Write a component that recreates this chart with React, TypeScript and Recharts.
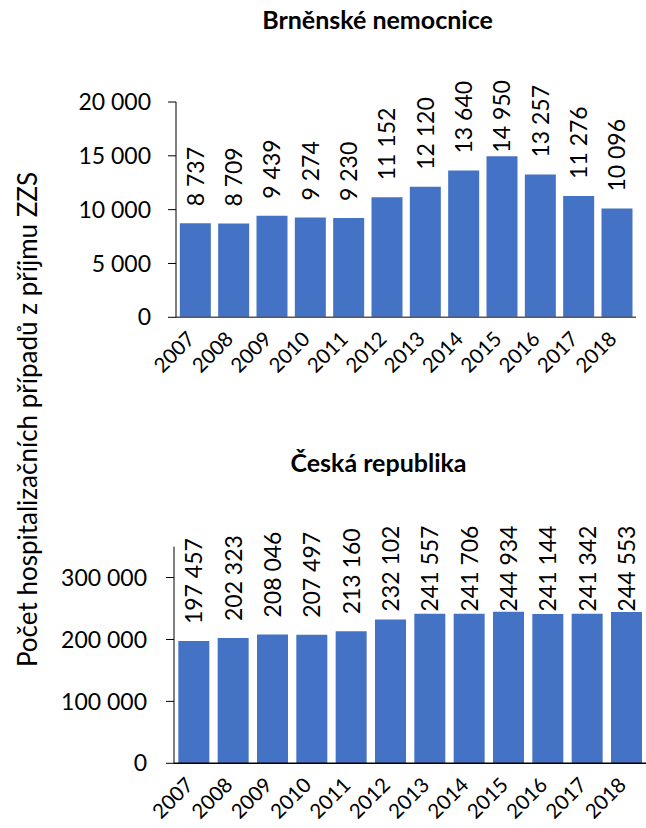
import React from "react";
import { BarChart, Bar, XAxis, YAxis, LabelList } from "recharts";

const years = ["2007", "2008", "2009", "2010", "2011", "2012", "2013", "2014", "2015", "2016", "2017", "2018"];
const brnoValues = [8737, 8709, 9439, 9274, 9230, 11152, 12120, 13640, 14950, 13257, 11276, 10096];
const czValues = [197457, 202323, 208046, 207497, 213160, 232102, 241557, 241706, 244934, 241144, 241342, 244553];
const brnoTicks = [0, 5000, 10000, 15000, 20000];
const czTicks = [0, 100000, 200000, 300000];

const brnoTitle = "Brněnské nemocnice";
const czTitle = "Česká republika";
const yTitle = "Počet hospitalizačních případů z příjmu ZZS";

const FONT = "Lato, 'DejaVu Sans', sans-serif";
const BLUE = "#4472C4";
const LABEL_FS = 23;

const fmt = (v: number) => String(v).replace(/\B(?=(\d{3})+(?!\d))/g, " ");

// rough width of a digit string in Lato
const textWidth = (s: string, fs: number) =>
  s.split("").reduce((acc, ch) => acc + (ch === " " ? 0.193 : 0.58) * fs, 0);

const brnoData = years.map((year, i) => ({ year, value: brnoValues[i] }));
const czData = years.map((year, i) => ({ year, value: czValues[i] }));

const XTick = (props: any) => {
  const { x, y, payload } = props;
  const tx = x + 1;
  const ty = y + 23;
  return (
    <text
      x={tx}
      y={ty}
      transform={`rotate(-45 ${tx} ${ty})`}
      textAnchor="end"
      fontSize={20.5}
      fontFamily={FONT}
      fill="#000"
    >
      {payload.value}
    </text>
  );
};

// labels sit above the bar, but are pushed down when they would leave the chart area
const makeLabel = (clampTop: number) => (props: any) => {
  const { x, y, width, value } = props;
  const txt = fmt(value);
  const w = textWidth(txt, LABEL_FS);
  const bottom = Math.max(y - 17, clampTop + w);
  const bx = x + width / 2 + 8.5;
  return (
    <text
      x={bx}
      y={bottom}
      transform={`rotate(-90 ${bx} ${bottom})`}
      textAnchor="start"
      fontSize={LABEL_FS}
      fontFamily={FONT}
      fill="#000"
    >
      {txt}
    </text>
  );
};

export default function App() {
  return (
    <div style={{ position: "absolute", left: 0, top: 0, width: 646, height: 828, background: "#fff", fontFamily: FONT }}>
      <div style={{ position: "absolute", left: 0, top: 0 }}>
        <BarChart
          width={646}
          height={420}
          data={brnoData}
          margin={{ top: 102, right: 10, bottom: 0, left: 0 }}
          barCategoryGap="10%"
        >
          <XAxis
            dataKey="year"
            height={102.7}
            tickLine={false}
            tickSize={0}
            tickMargin={0}
            interval={0}
            axisLine={{ stroke: "#595959", strokeWidth: 1.5 }}
            tick={(p: any) => <XTick {...p} />}
          />
          <YAxis
            width={176}
            domain={[0, 20000]}
            ticks={brnoTicks}
            tickFormatter={fmt}
            tickSize={8}
            tickMargin={17}
            axisLine={{ stroke: "#000" }}
            tickLine={{ stroke: "#000" }}
            tick={{ fontSize: 23, fill: "#000", fontFamily: FONT }}
          />
          <Bar dataKey="value" fill={BLUE} isAnimationActive={false}>
            <LabelList dataKey="value" content={makeLabel(81.5)} />
          </Bar>
        </BarChart>
      </div>
      <div style={{ position: "absolute", left: 0, top: 430 }}>
        <BarChart
          width={646}
          height={398}
          data={czData}
          margin={{ top: 116.6, right: 0, bottom: 0, left: 0 }}
          barCategoryGap="11%"
        >
          <XAxis
            dataKey="year"
            height={64.7}
            tickLine={false}
            tickSize={0}
            tickMargin={0}
            interval={0}
            axisLine={{ stroke: "#000", strokeWidth: 1.5 }}
            tick={(p: any) => <XTick {...p} />}
          />
          <YAxis
            width={174}
            domain={[0, 350000]}
            ticks={czTicks}
            tickFormatter={fmt}
            tickSize={8}
            tickMargin={19}
            axisLine={{ stroke: "#000" }}
            tickLine={{ stroke: "#000" }}
            tick={{ fontSize: 23, fill: "#000", fontFamily: FONT }}
          />
          <Bar dataKey="value" fill={BLUE} isAnimationActive={false}>
            <LabelList dataKey="value" content={makeLabel(97)} />
          </Bar>
        </BarChart>
      </div>
      <svg width={646} height={828} style={{ position: "absolute", left: 0, top: 0, pointerEvents: "none" }}>
        <text x={377.5} y={29} textAnchor="middle" fontSize={25} fontWeight="bold" fontFamily={FONT} fill="#000">
          {brnoTitle}
        </text>
        <text x={378.5} y={472} textAnchor="middle" fontSize={25} fontWeight="bold" fontFamily={FONT} fill="#000">
          {czTitle}
        </text>
        <text
          x={37}
          y={419.5}
          transform="rotate(-90 37 419.5)"
          textAnchor="middle"
          fontSize={26}
          fontFamily={FONT}
          fill="#000"
        >
          {yTitle}
        </text>
      </svg>
    </div>
  );
}
